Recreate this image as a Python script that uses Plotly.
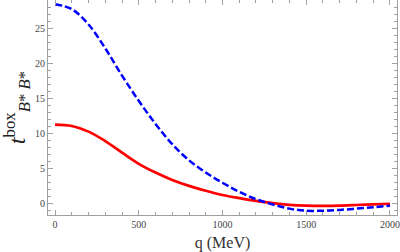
import plotly.graph_objects as go

q = [0, 100, 200, 300, 400, 500, 600, 700, 800, 900, 1000,
     1100, 1200, 1300, 1400, 1500, 1600, 1700, 1800, 1900, 2000]
red_vals = [11.2, 11.0, 10.2, 8.85, 7.2, 5.6, 4.35, 3.3, 2.45, 1.75, 1.15,
            0.7, 0.3, 0.0, -0.25, -0.37, -0.4, -0.37, -0.28, -0.18, -0.1]
blue_vals = [28.4, 27.7, 25.5, 22.1, 18.2, 14.6, 11.3, 8.4, 6.1, 4.35, 2.9,
             1.6, 0.55, -0.2, -0.8, -1.1, -1.1, -0.98, -0.8, -0.6, -0.38]
x_ticks = [0, 500, 1000, 1500, 2000]
y_ticks = [0, 5, 10, 15, 20, 25]

fig = go.Figure()
fig.add_trace(go.Scatter(x=q, y=red_vals, mode="lines",
                         line=dict(color="#ff0000", width=2.7, shape="spline", smoothing=1.0)))
fig.add_trace(go.Scatter(x=q, y=blue_vals, mode="lines",
                         line=dict(color="#0000ff", width=2.5, dash="7px,3px", shape="spline", smoothing=1.0)))

font = "Liberation Serif"
axis_common = dict(
    showline=True, linecolor="#a0a0a0", linewidth=1, mirror="ticks",
    ticks="inside", ticklen=5, tickcolor="#a0a0a0", tickwidth=1,
    showgrid=False, zeroline=False, ticklabeloverflow="allow",
    tickfont=dict(family=font, size=10, color="#444444"),
)
fig.update_xaxes(range=[-42, 2042], tickvals=x_ticks,
                 minor=dict(dtick=100, ticks="inside", ticklen=3, tickcolor="#a0a0a0", showgrid=False),
                 title=dict(text="q (MeV)", font=dict(family=font, size=16, color="#333333"), standoff=8),
                 **axis_common)
fig.update_yaxes(range=[-1.71, 29.0], tickvals=y_ticks,
                 minor=dict(dtick=1, ticks="inside", ticklen=3, tickcolor="#a0a0a0", showgrid=False),
                 title=dict(text="<i>t</i><sup>box</sup><sub><i>B</i>* <i>B</i>*</sub>",
                            font=dict(family=font, size=24, color="#222222"), standoff=8),
                 **axis_common)
fig.update_layout(width=400, height=252, showlegend=False,
                  margin=dict(l=48, r=3, t=0, b=37, autoexpand=False),
                  plot_bgcolor="white", paper_bgcolor="white")
fig.write_html("out.html", config={"displayModeBar": False},
               post_script="document.body.style.margin='0';document.body.style.overflow='hidden';")
